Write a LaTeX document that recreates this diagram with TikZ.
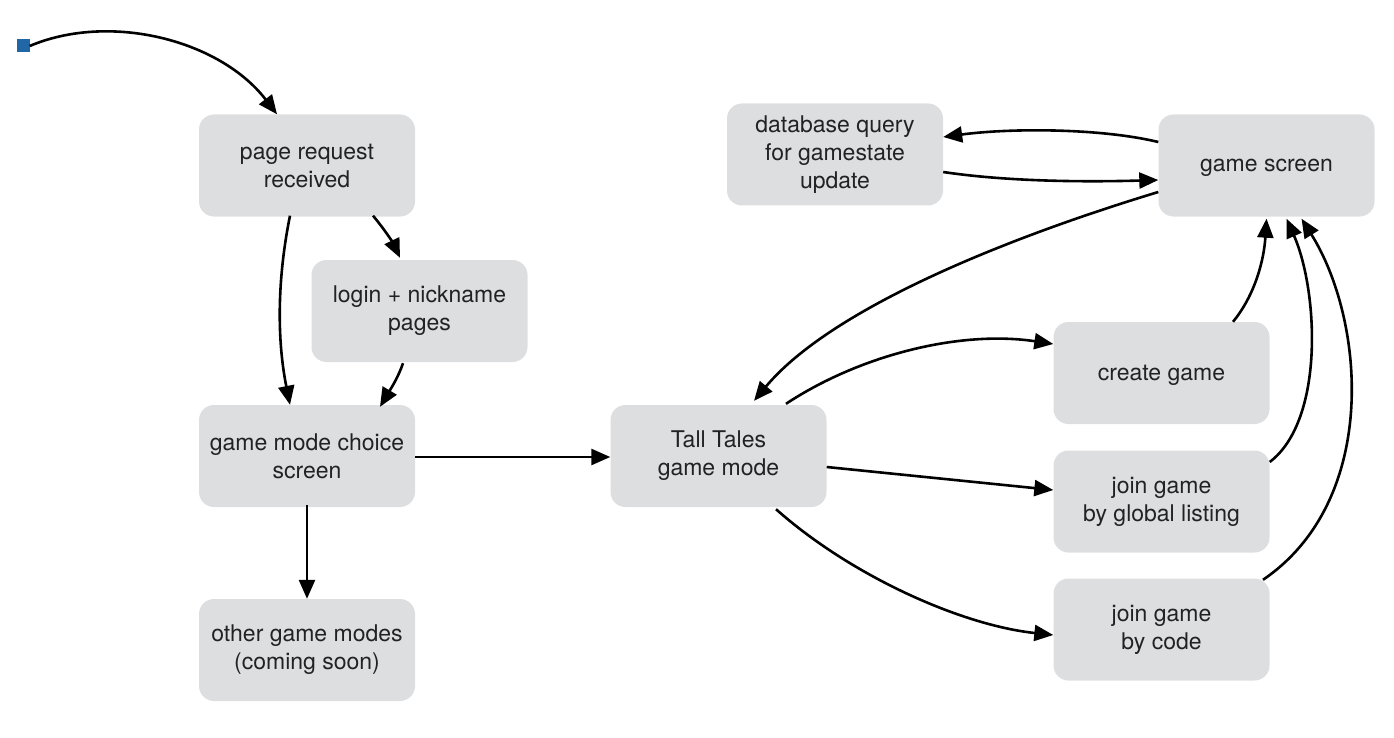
\documentclass[tikz,border=0pt]{standalone}
\usepackage{fontspec}
\setmainfont{TeX Gyre Heros}
\usetikzlibrary{arrows.meta,calc}
\definecolor{boxgray}{HTML}{DDDEE0}
\definecolor{startblue}{HTML}{2166A5}
\definecolor{txt}{HTML}{222222}
\begin{document}
\begin{tikzpicture}[x=1pt,y=-1pt,
  box/.style={rectangle,rounded corners=15pt,fill=boxgray,minimum width=216pt,minimum height=102pt,inner sep=0pt,align=center,text=txt,font=\fontsize{23}{28}\selectfont},
  onebox/.style={box,text depth=0pt},
  conn/.style={line width=2.6pt,-{Triangle[length=19pt,width=16pt]}}]
\useasboundingbox (0,0) rectangle (1394,738);
\node[fill=startblue,minimum size=13pt,inner sep=0pt] (start) at (23,46) {};
\node[box] (pr) at (307,165.5) {page request\\received};
\node[box] (login) at (419.5,311) {login + nickname\\pages};
\node[box] (gm) at (307,456) {game mode choice\\screen};
\node[box] (other) at (307,650) {other game modes\\(coming soon)};
\node[box] (tt) at (718.5,456) {Tall Tales\\game mode};
\node[box] (db) at (835,154.5) {database query\\for gamestate\\update};
\node[onebox] (gs) at (1266.5,165.5) {game screen};
\node[onebox] (cg) at (1161.5,373) {create game};
\node[box] (jg) at (1161.5,501.5) {join game\\by global listing};
\node[box] (jc) at (1161.5,629.5) {join game\\by code};

\draw[conn] (start.east) .. controls (110,12) and (220,40) .. ([xshift=-30pt]pr.north);
\draw[conn] ([xshift=-17pt,yshift=1pt]pr.south) .. controls (277,280) and (277,340) .. ([xshift=-17pt]gm.north);
\draw[conn] ([xshift=66pt,yshift=1pt]pr.south) .. controls (385,230) and (393,243) .. ([xshift=-19.5pt,yshift=2pt]login.north);
\draw[conn] ([xshift=-16.5pt,yshift=-1pt]login.south) .. controls (398,378) and (390,390) .. ([xshift=73pt,yshift=-2pt]gm.north);
\draw[conn] ([yshift=-1pt]gm.east) -- ([yshift=-1pt]tt.west);
\draw[conn] ([yshift=2pt]gm.south) -- (other.north);
\draw[conn] ([xshift=67.5pt,yshift=1pt]tt.north) .. controls (860,355) and (960,330) .. ([yshift=29pt]cg.west);
\draw[conn] ([yshift=-11pt]tt.east) -- ([yshift=11.5pt]jg.west);
\draw[conn] ([xshift=57.5pt,yshift=-2pt]tt.south) .. controls (850,575) and (960,625) .. ([yshift=-5.5pt]jc.west);
\draw[conn] ([yshift=-26.5pt]gs.west) .. controls (1000,240) and (830,310) .. ([xshift=35.5pt,yshift=4pt]tt.north);
\draw[conn] ([yshift=23.5pt]gs.west) .. controls (1100,128) and (1010,128) .. ([yshift=17.5pt]db.east);
\draw[conn] ([yshift=-17.5pt]db.east) .. controls (1010,182) and (1090,182) .. ([yshift=-14.5pt]gs.west);
\draw[conn] ([xshift=71.5pt]cg.north) .. controls (1255,295) and (1264,260) .. ([xshift=0pt,yshift=-2pt]gs.south);
\draw[conn] ([yshift=39.5pt]jg.east) .. controls (1325,420) and (1318,290) .. ([xshift=20pt,yshift=-2pt]gs.south);
\draw[conn] ([xshift=101.5pt,yshift=-1.5pt]jc.north) .. controls (1380,500) and (1365,320) .. ([xshift=35pt,yshift=-2pt]gs.south);
\end{tikzpicture}
\end{document}
